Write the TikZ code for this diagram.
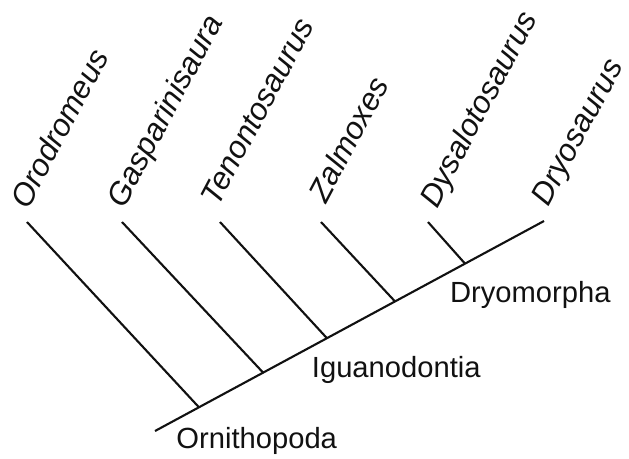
\documentclass[tikz,border=0pt]{standalone}
\usepackage{fontspec}
\setmainfont{Liberation Sans}
\usepackage{xcolor}
\usepackage{tikz}
\usetikzlibrary{positioning,calc}
\definecolor{cladeink}{HTML}{111111}

\tikzset{
  branch/.style={draw=cladeink,line width=1.2pt},
  taxon/.style={rotate=62,anchor=base west,inner sep=0pt,outer sep=0pt,
    text=cladeink,font=\fontsize{17.8}{20}\selectfont\itshape},
  clade/.style={anchor=base west,inner sep=0pt,outer sep=0pt,
    text=cladeink,font=\fontsize{16.6}{19}\selectfont}
}

\begin{document}
\begin{tikzpicture}[x=0.02cm,y=-0.02cm]
  \useasboundingbox (0,0) rectangle (629,458);
  % stem of the tree, root to Dryosaurus
  \coordinate (root) at (155,431);
  \coordinate (t6) at (544,221);
  \draw[branch] (root) -- (t6);
  \node[taxon] (lab6) at (548.5,207) {Dryosaurus};
  \foreach \i/\pos/\tx/\lx/\ly/\name in {
      1/0.113/27/28/210/Orodromeus,
      2/0.278/122/124/209/Gasparinisaura,
      3/0.442/220/218/207/Tenontosaurus,
      4/0.617/321/326/204/Zalmoxes,
      5/0.797/428/437/209/Dysalotosaurus} {
    \coordinate (n\i) at ($(root)!\pos!(t6)$);
    \coordinate (t\i) at (\tx,222);
    \draw[branch] (n\i) -- (t\i);
    \node[taxon] (lab\i) at (\lx,\ly) {\name};
  }
  \node[clade] (ornitho) at ([shift={(-22.5,41)}]n1) {Ornithopoda};
  \node[clade] (iguano) at ([shift={(-15,39)}]n3) {Iguanodontia};
  \node[clade] (dryomo) at ([shift={(-15,38.5)}]n5) {Dryomorpha};
\end{tikzpicture}
\end{document}
